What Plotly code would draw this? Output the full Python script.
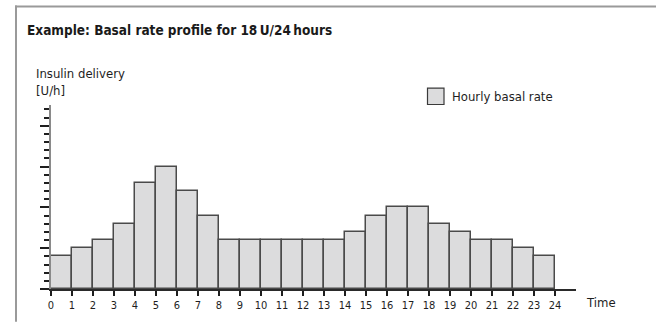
import plotly.graph_objects as go

# Hourly basal rate profile, 24 one-hour steps, total 18 U
hours = list(range(24))
rates = [0.4, 0.5, 0.6, 0.8, 1.3, 1.5, 1.2, 0.9, 0.6, 0.6, 0.6, 0.6,
         0.6, 0.6, 0.7, 0.9, 1.0, 1.0, 0.8, 0.7, 0.6, 0.6, 0.5, 0.4]
hour_ticks = list(range(25))
hour_labels = [str(h) for h in hour_ticks]

W, H = 656, 324
L, R, T, B = 51, 80, 105, 33
PW, PH = W - L - R, H - T - B

FONT = "Liberation Sans Narrow, DejaVu Sans Condensed, Arial Narrow, sans-serif"
INK = "#1e1e1e"


def px(x):
    return (x - L) / PW


def py(y):
    return (H - B - y) / PH


fig = go.Figure()
fig.add_trace(go.Bar(
    x=[h + 0.5 for h in hours],
    y=rates,
    width=1,
    marker=dict(color="#dcdcdd", line=dict(color="#4a4a4a", width=1.5)),
    name="Hourly basal rate",
    showlegend=False,
    hoverinfo="x+y",
))

fig.update_layout(
    width=W, height=H,
    margin=dict(l=L, r=R, t=T, b=B),
    paper_bgcolor="white", plot_bgcolor="white",
    font=dict(family=FONT, color=INK),
    bargap=0,
    xaxis=dict(
        range=[0, 25], showgrid=False, zeroline=False,
        showline=True, linecolor="#2a2a2a", linewidth=1.5,
        tickmode="array", tickvals=hour_ticks, ticktext=hour_labels,
        ticks="outside", ticklen=5, tickwidth=1.5, tickcolor="#1e1e1e",
        tickfont=dict(size=11, family=FONT, color=INK),
    ),
    yaxis=dict(
        range=[0, 2.255], showgrid=False, zeroline=False,
        showline=True, linecolor="#8a8a8a", linewidth=2,
        tickmode="linear", tick0=0, dtick=0.5,
        ticks="outside", ticklen=9, tickwidth=1.5, tickcolor="#1e1e1e",
        showticklabels=False,
        minor=dict(tickmode="linear", tick0=0, dtick=0.1, ticks="outside",
                   ticklen=5, tickwidth=1.5, tickcolor="#1e1e1e"),
    ),
    shapes=[
        # frame: top and left rules
        dict(type="line", xref="paper", yref="paper",
             x0=px(15), x1=px(W), y0=py(5.5), y1=py(5.5),
             line=dict(color="#9a9a9a", width=2)),
        dict(type="line", xref="paper", yref="paper",
             x0=px(16), x1=px(16), y0=py(4.5), y1=py(H),
             line=dict(color="#9a9a9a", width=2)),
        # legend swatch
        dict(type="rect", xref="paper", yref="paper",
             x0=px(427.5), x1=px(444), y0=py(88), y1=py(104.5),
             fillcolor="#dcdcdd", line=dict(color="#3a3a3a", width=1.2)),
    ],
    annotations=[
        dict(text="<b>Example: Basal rate profile for 18\u2009U/24\u2009hours</b>",
             xref="paper", yref="paper", x=px(25), y=py(29),
             xanchor="left", yanchor="middle", showarrow=False,
             font=dict(size=13.5, family=FONT, color="#1a1a1a")),
        dict(text="Insulin delivery<br>[U/h]",
             xref="paper", yref="paper", x=px(34), y=py(82),
             xanchor="left", yanchor="middle", align="left", showarrow=False,
             font=dict(size=13, family=FONT, color=INK)),
        dict(text="Hourly basal rate",
             xref="paper", yref="paper", x=px(450), y=py(96.5),
             xanchor="left", yanchor="middle", showarrow=False,
             font=dict(size=13, family=FONT, color=INK)),
        dict(text="Time",
             xref="paper", yref="paper", x=px(584), y=py(305),
             xanchor="left", yanchor="middle", showarrow=False,
             font=dict(size=13, family=FONT, color=INK)),
    ],
)

fig.write_html("out.html")
